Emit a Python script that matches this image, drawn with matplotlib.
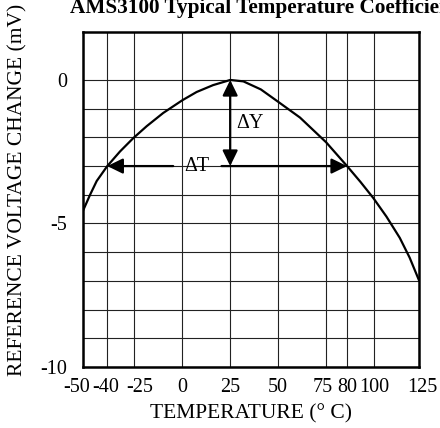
import numpy as np
import matplotlib
matplotlib.use("Agg")
import matplotlib.pyplot as plt
from matplotlib.transforms import ScaledTranslation

plt.rcParams['font.family'] = ['Liberation Serif', 'DejaVu Serif']
plt.rcParams['axes.unicode_minus'] = False

########## data #####################################################################
title = "AMS3100 Typical Temperature Coefficient"
xlabel = "TEMPERATURE (\u00b0 C)"
ylabel = "REFERENCE VOLTAGE CHANGE (mV)"

x_ticks = [-50, -40, -25, 0, 25, 50, 75, 80, 100, 125]
y_ticks = [0, -5, -10]

# curve: temperature (C) / voltage change (mV)
temp = [-50, -47.0, -44.3, -40.0, -32.9, -25.6, -18.5, -9.9, 0.0, 7.5, 16.1, 23.1, 25.0,
        31.9, 41.0, 50.0, 61.4, 75.0, 80.0, 89.9, 99.4, 106.9, 114.3, 119.8, 125.0]
dv = [-4.58, -4.00, -3.52, -3.0, -2.49, -2.03, -1.61, -1.15, -0.71, -0.42, -0.18, -0.04, 0.0,
      -0.05, -0.33, -0.76, -1.31, -2.17, -3.0, -3.55, -4.11, -4.76, -5.50, -6.19, -6.98]

t_peak, v_peak = 25, 0
t_low, t_high, v_cross = -40, 80, -3

########## layout #####################################################################
# the original grid is not evenly spaced in temperature, so map ticks to grid positions
x_grid_pos = [0, 24.6, 51.6, 99.6, 147.6, 195.6, 243.6, 264.6, 291.6, 336.6]
x_label_shift = [-6, -1.5, 5.5, 0, 0, 0, -3, 0, 0, 3]  # px, labels nudged as in original

def fwd(t):
    return np.interp(t, x_ticks, x_grid_pos)

def inv(p):
    return np.interp(p, x_grid_pos, x_ticks)

fig = plt.figure(figsize=(4.4, 4.28), dpi=100)
ax = fig.add_axes([82.7/440, 1-367/428, (419-82.7)/440, (367-32.3)/428])
ax.set_xscale('function', functions=(fwd, inv))
ax.set_xlim(-50, 125)
ax.set_ylim(-10, 1.66)

ax.set_xticks(x_ticks)
ax.set_xticklabels([str(t) for t in x_ticks])
ax.set_xticks([], minor=True)
ax.set_yticks(y_ticks)
ax.set_yticks(range(-10, 1), minor=True)
ax.tick_params(which='both', length=0, labelsize=14.5)
ax.tick_params(axis='x', pad=8)
ax.tick_params(axis='y', pad=11)
ax.grid(True, which='both', color='#222222', lw=0.8)
for s in ax.spines.values():
    s.set_linewidth(1.8)

for lab, dx in zip(ax.get_xticklabels(), x_label_shift):
    lab.set_transform(lab.get_transform() + ScaledTranslation(dx/100, 0, fig.dpi_scale_trans))

ax.plot(temp, dv, color='black', lw=1.6, zorder=3, solid_joinstyle='round')

head = '-|>,head_length=0.47,head_width=0.23'
ax.annotate('', xy=(t_peak, v_peak), xytext=(t_peak, v_cross),
            arrowprops=dict(arrowstyle='<|-|>,head_length=0.47,head_width=0.23', color='black',
                            lw=1.6, shrinkA=0, shrinkB=0, mutation_scale=20), zorder=4)
ax.annotate('', xy=(t_low, v_cross), xytext=(-4.7, v_cross),
            arrowprops=dict(arrowstyle=head, color='black', lw=1.6,
                            shrinkA=0, shrinkB=0, mutation_scale=20), zorder=4)
ax.annotate('', xy=(t_high, v_cross), xytext=(20.5, v_cross),
            arrowprops=dict(arrowstyle=head, color='black', lw=1.6,
                            shrinkA=0, shrinkB=0, mutation_scale=20), zorder=4)
ax.text(35.3, -1.5, "\u0394Y", fontsize=14.5, ha='center', va='center')
ax.text(7.6, -3.03, "\u0394T", fontsize=14.5, ha='center', va='center')

ax.set_xlabel(xlabel, fontsize=15.5, labelpad=5)
fig.text(18/440, 1-190/428, ylabel, rotation=90, fontsize=15.5, ha='center', va='center')
fig.text(70/440, 1-13/428, title, fontsize=15.3, fontweight='bold', ha='left', va='baseline')

plt.savefig("out.png", dpi=100)
